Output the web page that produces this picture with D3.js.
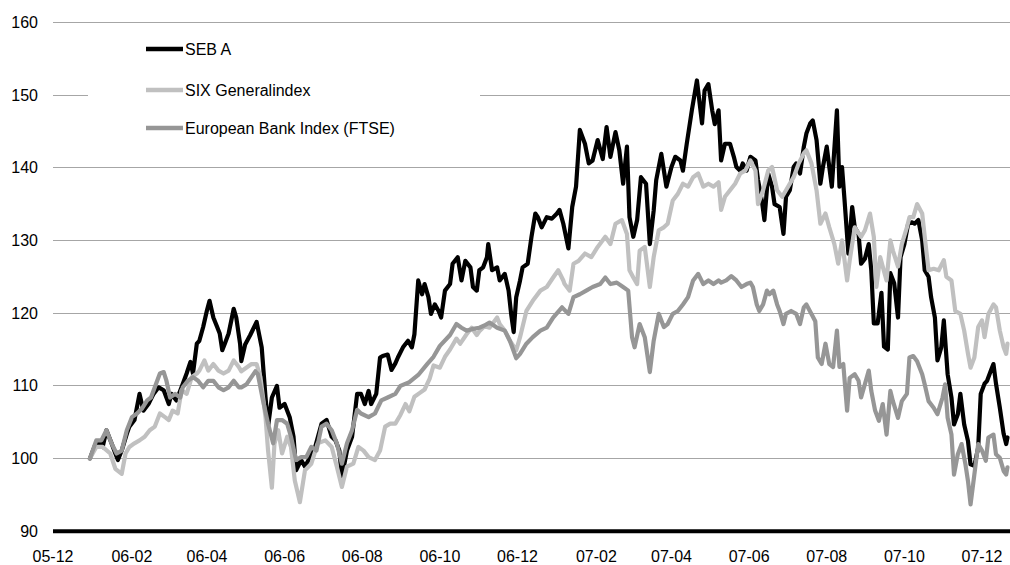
<!DOCTYPE html>
<html><head><meta charset="utf-8">
<script src="https://cdn.jsdelivr.net/npm/d3@7"></script>
<style>body{margin:0;background:#fff}svg{display:block}text{font-family:"Liberation Sans",Arial,sans-serif}</style>
</head><body><svg id="c" width="1010" height="565"></svg>
<script>
// index base date (all series = 100); day offsets are calendar days after it
const baseDate = "2005-12-30";
const seriesNames = ["SEB A", "SIX Generalindex", "European Bank Index (FTSE)"];
const yTicks = [90, 100, 110, 120, 130, 140, 150, 160];
const xTickDates = ["2005-12-01","2006-02-01","2006-04-01","2006-06-01","2006-08-01","2006-10-01","2006-12-01","2007-02-01","2007-04-01","2007-06-01","2007-08-01","2007-10-01","2007-12-01"];

const sebDay = [0,4,7,10,13,17,20,22,25,29,31,35,39,42,46,50,54,58,62,64,68,72,76,79,81,84,86,89,92,94,97,100,102,104,106,109,113,115,118,119,122,126,131,135,138,140,143,147,149,153,157,160,162,166,169,173,177,182,186,190,193,196,198,202,206,210,213,216,219,221,225,228,230,234,237,240,242,246,250,253,255,258,261,263,266,268,271,274,276,279,283,285,289,292,295,299,301,304,306,309,312,313,316,320,322,326,329,331,333,335,338,340,344,347,350,352,355,359,363,367,369,372,376,379,382,385,389,392,395,399,403,406,409,413,416,419,422,424,427,430,433,437,440,443,445,449,453,457,460,464,466,469,473,477,481,483,486,489,491,494,496,499,503,506,508,511,513,516,519,523,525,528,530,533,536,538,542,545,547,550,553,555,558,561,563,566,568,571,574,576,579,581,583,587,589,591,593,596,599,601,604,606,609,612,614,616,619,622,624,627,629,632,635,637,640,643,646,648,651,654,656,659,661,664,666,669,671,674,677,679,682,684,687,690,692,695,698,700,703,705,708,710,712,715,718,720,721];
const sebVal = [100,101.8,102.3,101.6,103.9,102.1,100.7,99.8,101.1,103.4,104.4,105.3,108.9,106.6,107.5,108.9,109.8,109.4,107.5,108.9,108,109.8,111.7,113.3,111.7,115.8,116.2,118.1,120.4,121.7,119.4,118.1,117.2,114.9,115.8,117.2,120.6,119.4,115.8,113.4,115.7,117,118.8,115.3,108.4,104.4,108.4,110,107,107.5,105.7,103,98.4,99.8,98.9,100.2,101.6,104.8,105.3,103,102.5,101.1,97.5,101.1,103,108.9,108.9,107.5,109.3,107.5,108.9,113.9,114.1,114.3,112.2,113.1,113.9,115.3,116.2,115.3,117.1,124.5,122.6,124,122.2,119.9,121.2,120.3,119.4,123.1,124,126.8,127.7,124.5,127.2,126.3,123.6,123.1,125.9,126.3,127.7,129.5,125.9,126.3,124.5,125.4,123.1,119.9,117.4,122.2,124.5,126.3,126.8,130.5,133.7,133.2,131.8,133.2,133,133.7,134.2,132.3,128.9,134.6,137.4,145.2,143.3,140.6,141,143.8,141.2,145.6,141.5,144.9,142.4,137.8,142.9,133.2,130.5,132.8,138.7,137.8,129.5,134.1,138.3,141.9,137.4,140.1,141.5,141,139.6,143.3,147.9,152,146.1,150.6,151.5,147.9,146,147.9,141,143.3,143.3,141.5,140.1,139.6,140.6,139.6,141.5,141,138.3,135.5,132.8,139.2,137.4,135,134.6,130.9,136,136.9,140.1,140.6,139.2,142.9,144.7,146.1,146.5,143.8,137.8,140.1,142.9,140.1,137.4,147.9,137.4,140.1,135.5,128.2,134.6,131.8,130.9,126.8,127.5,129.5,125.9,118.6,118.6,122.8,115.4,115,125.5,124.1,119.4,127.7,129.5,132.3,132.5,132.3,132.8,130,125.9,125,122.2,119.4,113.5,115.3,119,111.6,108.4,104.7,106.1,108.9,104.7,102.4,99.2,99,101.5,108.9,110.3,110.7,112.1,113,110.3,107,103.4,102,102.9];

const sixDay = [0,5,10,16,20,25,28,31,35,39,43,47,51,55,59,62,65,69,72,76,80,84,86,90,93,97,101,105,109,113,117,119,127,131,134,138,140,143,145,148,151,155,158,161,165,169,174,179,185,190,194,198,202,207,211,215,219,224,228,232,236,240,244,248,251,255,259,263,267,270,275,279,283,288,291,296,300,304,306,310,314,320,322,326,330,335,338,343,348,354,359,364,368,372,373,377,380,384,389,394,399,405,409,413,418,422,424,427,430,432,436,440,443,447,451,454,458,462,466,470,474,478,482,486,490,494,496,499,503,507,511,515,519,523,525,529,533,536,540,544,547,553,557,561,563,567,571,574,578,581,585,588,591,595,597,601,606,609,613,616,618,621,623,626,629,631,635,638,642,644,647,650,654,656,659,663,667,671,673,677,680,684,687,690,692,695,698,701,703,706,710,712,715,718,720,721];
const sixVal = [100,101.6,101.6,100.7,98.6,97.9,100.7,101.6,102.1,102.5,103,103.9,104.4,106.2,105.7,105.3,106.6,106.2,109.4,108.9,111.2,111.7,112.1,113.5,112.1,113,112.1,111.7,112.1,113.5,112.6,112,113,113,111.2,105.7,101.1,96,102,103.9,100.7,103,101.6,97,94,98.4,99.3,102.1,102.5,101.6,98.9,96.1,98.9,99.3,101.6,101.1,100.2,99.8,101.1,104.4,104.8,104.8,106,107.5,106.5,108.5,109,109.5,111,112.8,112.5,114,115,116.5,115.8,117.1,118,117,117.5,118.2,118,119.4,118.5,117.6,116.2,114.9,116.7,120.3,121.7,123.1,123.6,124.9,125.9,124.5,124,123.1,126.8,127.2,128.2,127.7,129.1,130.5,129.5,132.3,132.8,130.9,125.9,124.9,124,128.6,129.1,123.6,127.7,131.4,131.8,132.3,135.5,136.4,137.8,137.4,138.7,139.2,137.4,137.8,137.4,138,134.2,136,136.9,137.8,139.2,139.6,141,139.6,135,136.9,139.6,140.1,136.9,136,136.9,138.7,140.6,142,142.4,140.6,136.9,132.3,133.7,131.8,129.5,126.8,130,124.5,127.2,131.8,130.5,131.4,133.7,130.5,123.6,127.7,126.4,124.5,130,128.6,126.4,129.5,131.8,133.2,133.2,135,133.7,130.5,125.9,126.1,125.9,127.3,125,124.5,120.3,119.9,117.6,114.4,112.5,113.9,118.1,119,116.7,119.9,121.2,120.8,117.6,115.3,114.4,115.8];

const ebiDay = [0,5,9,13,17,21,25,29,33,37,41,45,48,52,55,58,60,63,67,71,73,77,81,85,89,93,97,101,105,109,113,117,119,123,130,132,136,140,144,147,151,155,158,162,166,170,174,178,182,186,190,194,198,202,206,210,213,219,224,229,234,240,244,251,258,265,270,275,283,288,292,296,300,306,310,314,320,326,330,335,338,343,348,354,359,364,371,376,380,385,390,395,401,405,409,414,419,423,426,428,432,436,440,443,447,451,454,458,462,466,470,474,478,482,486,490,494,496,500,504,508,512,516,519,521,524,526,529,532,534,537,540,542,545,547,551,555,558,561,563,567,570,572,575,578,581,584,587,589,592,595,597,601,604,606,612,614,617,620,623,626,629,631,635,638,642,644,647,650,654,656,659,663,666,670,672,674,677,679,682,685,688,690,692,695,698,701,704,706,710,712,715,718,720,721];
const ebiVal = [100,102.5,102.5,103.9,102.1,100.7,101.1,103.9,105.7,106.2,106.9,108,108.4,110.3,111.7,111.9,110.8,108.4,108.9,108.4,109.8,110.7,111.2,110.7,109.8,110.7,110.7,109.8,109.4,109.8,110.7,109.8,109.8,110.2,112,111.6,108,104.8,102.1,105.3,105.3,104.8,103,99.8,100.2,100.2,101.6,101.1,104.4,104.8,103.9,102.1,99.3,102.1,103.9,106.7,106.2,105.7,106.2,108,108.4,108.9,110,110.5,111.5,113,114,115.5,117,118.5,118,117.6,117.8,118,118.3,118.7,118,117.6,116.2,113.8,114.4,115.8,116.7,117.6,118,119.4,120.8,119.9,122.2,122.6,123.1,123.6,124,124.9,124,124.2,123.6,123.1,116.7,115.3,118.5,116.7,111.9,116.2,119.9,118.1,118.5,119.9,120.3,121.2,122.2,124.5,125.4,124,124.5,124,124.5,124.2,124.5,125.1,124.5,123.6,124,124.2,123.6,121.2,120.3,121.2,123.1,122.6,123.1,121.2,120.3,118.5,119.9,120.3,119.9,118.5,120.8,121.2,119.9,118.9,113.9,113,115.8,113,112.6,117.6,112.6,113,106.6,111.1,111.6,110.7,108.4,112.1,109.3,106.6,105.2,107.5,103.3,109.3,107.9,105.6,107.9,108.9,113.9,114.1,113.4,111.6,110.2,107.9,107,106.1,108.4,110.2,105.6,103.3,97.8,100.6,102,99.2,96.9,93.7,97.8,102,101.1,99.7,102.9,103.3,100.6,100.1,98.3,97.8,98.8];

const W = 1010, H = 565;
const svg = d3.select("#c");
const parse = d3.timeParse("%Y-%m-%d");
const base = parse(baseDate);
const toSeries = (days, vals) => days.map((d, i) => ({date: d3.timeDay.offset(base, d), v: vals[i]}));
const series = [
  {name: seriesNames[0], data: toSeries(sebDay, sebVal), color: "#000000"},
  {name: seriesNames[1], data: toSeries(sixDay, sixVal), color: "#c0c0c0"},
  {name: seriesNames[2], data: toSeries(ebiDay, ebiVal), color: "#969696"}
];

const x = d3.scaleTime().domain([parse("2005-12-01"), parse("2007-12-01")]).range([53, 982]);
const y = d3.scaleLinear().domain([90, 160]).range([531.3, 22.3]);

// gridlines
svg.append("g").selectAll("line").data(yTicks.filter(t => t > 90)).join("line")
  .attr("x1", 53).attr("x2", W).attr("y1", d => y(d)).attr("y2", d => y(d))
  .attr("stroke", "#a6a6a6").attr("stroke-width", 1).attr("shape-rendering", "crispEdges");

// y labels
svg.append("g").selectAll("text").data(yTicks).join("text")
  .attr("x", 38).attr("y", d => y(d)).attr("dy", "0.35em").attr("text-anchor", "end")
  .attr("font-size", 16).attr("fill", "#000").text(d => d);

// x axis labels
const fmt = d3.timeFormat("%y-%m");
svg.append("g").selectAll("text").data(xTickDates.map(parse)).join("text")
  .attr("x", d => x(d)).attr("y", 562).attr("text-anchor", "middle")
  .attr("font-size", 16).attr("fill", "#000").text(d => fmt(d));

// series
const line = d3.line().x(d => x(d.date)).y(d => y(d.v));
svg.append("g").selectAll("path").data(series).join("path")
  .attr("d", d => line(d.data)).attr("fill", "none").attr("stroke", d => d.color)
  .attr("stroke-width", 4.2).attr("stroke-linejoin", "round").attr("stroke-linecap", "round");

// axis line at 90
svg.append("line").attr("x1", 53).attr("x2", W).attr("y1", y(90)).attr("y2", y(90))
  .attr("stroke", "#000").attr("stroke-width", 4);

// legend
const lg = svg.append("g");
lg.append("rect").attr("x", 88).attr("y", 30).attr("width", 392).attr("height", 125).attr("fill", "#fff");
const ly = [49, 90, 128];
series.forEach((s, i) => {
  lg.append("line").attr("x1", 146).attr("x2", 183).attr("y1", ly[i]).attr("y2", ly[i])
    .attr("stroke", s.color).attr("stroke-width", 4.5);
  lg.append("text").attr("x", 185).attr("y", ly[i]).attr("dy", "0.35em")
    .attr("font-size", 16).attr("fill", "#000").text(s.name);
});
</script></body></html>
